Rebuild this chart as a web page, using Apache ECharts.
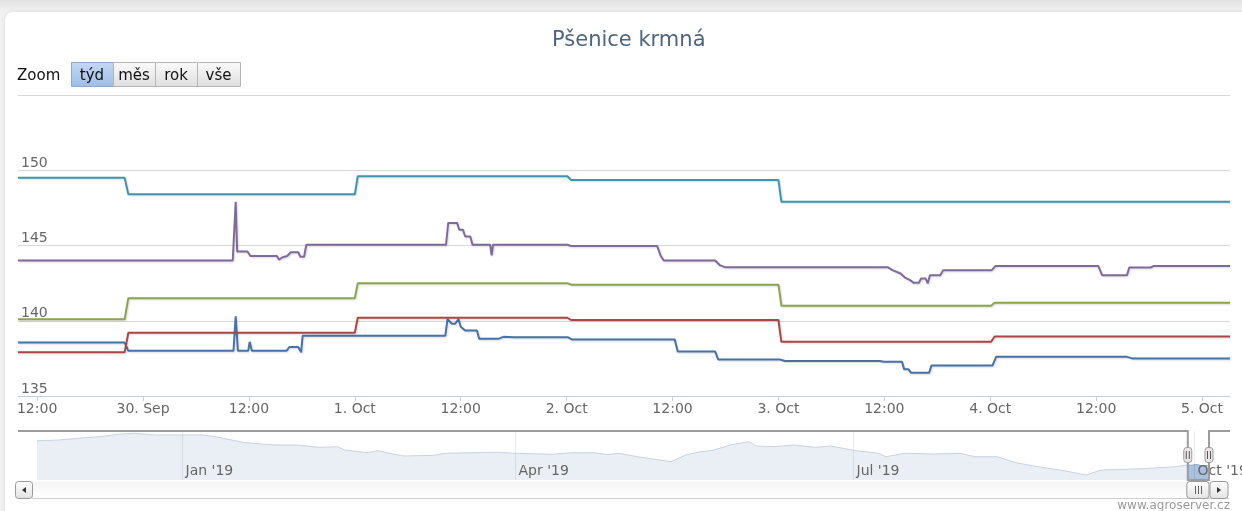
<!DOCTYPE html>
<html lang="cs">
<head>
    <meta charset="UTF-8">
    <title>Pšenice krmná</title>
    <script src="https://cdn.jsdelivr.net/npm/echarts@6/dist/echarts.min.js"></script>
    <style>
        html, body { margin: 0; padding: 0; width: 1242px; height: 511px; overflow: hidden;
            background: linear-gradient(#e2e2e2 0px, #f2f2f2 12px, #f2f2f2 100%); }
        #panel { position: absolute; left: 5px; top: 12px; width: 1260px; height: 530px;
            background: #fff; border-radius: 8px; box-shadow: 0 0 4px rgba(0,0,0,0.10); }
        #main { position: absolute; left: 0; top: 0; width: 1242px; height: 511px; }
    </style>
</head>
<body>
<div id="panel"></div>
<div id="main"></div>

<script>
    // nazvy mesicu pro popisky osy
    var mesice = ['Jan', 'Feb', 'Mar', 'Apr', 'May', 'Jun', 'Jul', 'Aug', 'Sep', 'Oct', 'Nov', 'Dec'];
    var zoomTlacitka = ['týd', 'měs', 'rok', 'vše'];
    var barvy = ['#4572A7', '#AA4643', '#89A54E', '#80699B', '#3D96AE'];

    var zacatek = '2019-09-29 09:50';
    var konec = '2019-10-05 03:10';

    // ceny za posledni tyden (cas, hodnota)
    var rada1 = [
        ['2019-09-29 09:50', 138.55], ['2019-09-29 21:55', 138.55], ['2019-09-29 22:20', 138.0],
        ['2019-09-30 10:15', 138.0], ['2019-09-30 10:30', 140.3], ['2019-09-30 10:45', 138.0],
        ['2019-09-30 11:55', 138.0], ['2019-09-30 12:05', 138.6], ['2019-09-30 12:20', 138.0],
        ['2019-09-30 16:15', 138.0], ['2019-09-30 16:35', 138.25], ['2019-09-30 17:35', 138.25],
        ['2019-09-30 17:55', 137.9], ['2019-09-30 18:05', 139.0], ['2019-10-01 10:15', 139.0],
        ['2019-10-01 10:30', 140.1], ['2019-10-01 11:00', 139.8], ['2019-10-01 11:20', 139.8],
        ['2019-10-01 11:45', 140.1], ['2019-10-01 12:00', 139.6], ['2019-10-01 12:30', 139.35],
        ['2019-10-01 13:50', 139.35], ['2019-10-01 14:05', 138.8], ['2019-10-01 16:15', 138.8],
        ['2019-10-01 16:50', 138.93], ['2019-10-01 18:00', 138.9], ['2019-10-02 00:10', 138.9],
        ['2019-10-02 00:35', 138.76], ['2019-10-02 12:15', 138.76], ['2019-10-02 12:35', 137.95],
        ['2019-10-02 16:50', 137.95], ['2019-10-02 17:10', 137.43], ['2019-10-03 00:10', 137.43],
        ['2019-10-03 00:45', 137.33], ['2019-10-03 11:30', 137.33], ['2019-10-03 11:55', 137.28],
        ['2019-10-03 14:00', 137.28], ['2019-10-03 14:15', 136.77], ['2019-10-03 14:45', 136.77],
        ['2019-10-03 15:00', 136.55], ['2019-10-03 17:05', 136.55], ['2019-10-03 17:20', 137.02],
        ['2019-10-04 00:15', 137.02], ['2019-10-04 00:40', 137.6], ['2019-10-04 15:30', 137.6],
        ['2019-10-04 16:05', 137.5], ['2019-10-05 03:10', 137.5]
    ];
    var rada2 = [
        ['2019-09-29 09:50', 137.9], ['2019-09-29 21:55', 137.9], ['2019-09-29 22:20', 139.2],
        ['2019-10-01 00:00', 139.2], ['2019-10-01 00:20', 140.2], ['2019-10-02 00:05', 140.2],
        ['2019-10-02 00:30', 140.05], ['2019-10-03 00:00', 140.05], ['2019-10-03 00:20', 138.6],
        ['2019-10-04 00:05', 138.6], ['2019-10-04 00:30', 138.95], ['2019-10-05 03:10', 138.95]
    ];
    var rada3 = [
        ['2019-09-29 09:50', 140.1], ['2019-09-29 21:55', 140.1], ['2019-09-29 22:20', 141.5],
        ['2019-10-01 00:00', 141.5], ['2019-10-01 00:20', 142.5], ['2019-10-02 00:05', 142.5],
        ['2019-10-02 00:30', 142.4], ['2019-10-03 00:00', 142.4], ['2019-10-03 00:20', 141.0],
        ['2019-10-04 00:05', 141.0], ['2019-10-04 00:30', 141.2], ['2019-10-05 03:10', 141.2]
    ];
    var rada4 = [
        ['2019-09-29 09:50', 144.0], ['2019-09-30 10:10', 144.0], ['2019-09-30 10:30', 147.9],
        ['2019-09-30 10:40', 144.6], ['2019-09-30 11:50', 144.6], ['2019-09-30 12:10', 144.3],
        ['2019-09-30 15:10', 144.3], ['2019-09-30 15:25', 144.05], ['2019-09-30 15:45', 144.2],
        ['2019-09-30 16:20', 144.3], ['2019-09-30 16:45', 144.55], ['2019-09-30 17:35', 144.55],
        ['2019-09-30 17:50', 144.25], ['2019-09-30 18:15', 144.25], ['2019-09-30 18:30', 145.05],
        ['2019-10-01 10:20', 145.05], ['2019-10-01 10:35', 146.5], ['2019-10-01 11:35', 146.5],
        ['2019-10-01 11:50', 146.05], ['2019-10-01 12:15', 146.05], ['2019-10-01 12:30', 145.6],
        ['2019-10-01 13:05', 145.6], ['2019-10-01 13:20', 145.05], ['2019-10-01 15:20', 145.05],
        ['2019-10-01 15:30', 144.35], ['2019-10-01 15:40', 145.05], ['2019-10-02 00:05', 145.05],
        ['2019-10-02 00:30', 144.97], ['2019-10-02 10:15', 144.97], ['2019-10-02 10:40', 144.3],
        ['2019-10-02 11:00', 144.0], ['2019-10-02 13:00', 144.0], ['2019-10-02 13:10', 143.9],
        ['2019-10-02 13:20', 144.0], ['2019-10-02 16:50', 144.0], ['2019-10-02 17:20', 143.7],
        ['2019-10-02 18:00', 143.55], ['2019-10-03 12:25', 143.55], ['2019-10-03 12:55', 143.36],
        ['2019-10-03 13:50', 143.14], ['2019-10-03 14:20', 142.87], ['2019-10-03 14:55', 142.7],
        ['2019-10-03 15:20', 142.52], ['2019-10-03 15:55', 142.52], ['2019-10-03 16:10', 142.81],
        ['2019-10-03 16:40', 142.81], ['2019-10-03 16:55', 142.48], ['2019-10-03 17:10', 143.03],
        ['2019-10-03 18:20', 143.03], ['2019-10-03 18:40', 143.36], ['2019-10-04 00:10', 143.36],
        ['2019-10-04 00:35', 143.63], ['2019-10-04 12:15', 143.63], ['2019-10-04 12:40', 143.03],
        ['2019-10-04 15:30', 143.03], ['2019-10-04 15:45', 143.54], ['2019-10-04 18:10', 143.54],
        ['2019-10-04 18:30', 143.63], ['2019-10-05 03:10', 143.63]
    ];
    var rada5 = [
        ['2019-09-29 09:50', 149.5], ['2019-09-29 21:55', 149.5], ['2019-09-29 22:20', 148.4],
        ['2019-10-01 00:00', 148.4], ['2019-10-01 00:20', 149.6], ['2019-10-02 00:05', 149.6],
        ['2019-10-02 00:30', 149.35], ['2019-10-03 00:00', 149.35], ['2019-10-03 00:20', 147.9],
        ['2019-10-05 03:10', 147.9]
    ];

    // historie prvni rady pro navigator
    var navCasy = ['2018-11-23', '2018-11-29', '2018-12-04', '2018-12-10', '2018-12-15', '2018-12-19',
        '2018-12-25', '2019-01-01', '2019-01-07', '2019-01-11', '2019-01-18', '2019-01-26',
        '2019-02-01', '2019-02-07', '2019-02-12', '2019-02-14', '2019-02-20', '2019-02-23',
        '2019-02-26', '2019-03-02', '2019-03-10', '2019-03-13', '2019-03-20', '2019-03-27',
        '2019-04-01', '2019-04-11', '2019-04-16', '2019-04-22', '2019-04-26', '2019-04-29',
        '2019-05-04', '2019-05-10', '2019-05-13', '2019-05-17', '2019-05-21', '2019-05-24',
        '2019-05-29', '2019-06-03', '2019-06-05', '2019-06-10', '2019-06-15', '2019-06-21',
        '2019-06-25', '2019-07-02', '2019-07-08', '2019-07-10', '2019-07-15', '2019-07-23',
        '2019-07-30', '2019-08-03', '2019-08-09', '2019-08-14', '2019-08-20', '2019-08-27',
        '2019-09-02', '2019-09-06', '2019-09-13', '2019-09-19', '2019-09-26', '2019-09-29 09:50'];
    var navHodnoty = [168.1, 169.0, 171.1, 173.0, 176.0, 177.2,
        175.1, 175.1, 175.1, 172.3, 165.7, 162.9,
        162.9, 160.0, 160.8, 156.7, 153.4, 155.9,
        152.7, 149.4, 150.2, 152.7, 153.4, 153.9,
        152.7, 151.5, 153.4, 153.4, 151.0, 152.7,
        148.5, 144.5, 142.4, 150.6, 154.7, 155.9,
        162.9, 166.9, 161.6, 160.8, 162.9, 160.0,
        161.6, 155.9, 152.7, 148.5, 152.7, 151.8,
        152.7, 148.5, 148.5, 141.2, 136.3, 131.4,
        126.1, 132.2, 133.1, 134.3, 136.3, 138.55];
    // popisky ctvrtleti v navigatoru
    var navPopisky = ['2019-01-01', '2019-04-01', '2019-07-01', '2019-10-01'];

    function cas(s) {
        var p = s.split(/[- :]/);
        return new Date(+p[0], p[1] - 1, +p[2], +(p[3] || 0), +(p[4] || 0)).getTime();
    }
    function pad(n) { return n < 10 ? '0' + n : '' + n; }
    function body(rada) {
        return rada.map(function (b) { return [cas(b[0]), b[1]]; });
    }

    var rady = [rada1, rada2, rada3, rada4, rada5];
    var font = 'DejaVu Sans';

    var serie = rady.map(function (rada, i) {
        return {
            name: 'rada' + (i + 1),
            type: 'line',
            xAxisIndex: 0,
            yAxisIndex: 0,
            data: body(rada),
            symbol: 'none',
            color: barvy[i],
            lineStyle: {width: 2, color: barvy[i], shadowColor: 'rgba(0,0,0,0.15)', shadowBlur: 2,
                shadowOffsetX: 1, shadowOffsetY: 1}
        };
    });
    // navigator - cela historie
    serie.push({
        type: 'line', xAxisIndex: 1, yAxisIndex: 1, silent: true, symbol: 'none',
        data: navCasy.map(function (c, i) { return [cas(c), navHodnoty[i]]; }),
        lineStyle: {width: 1, color: '#c6d3e3'},
        areaStyle: {color: '#eaeff5', opacity: 1}
    });
    // navigator - vybrany usek
    serie.push({
        type: 'line', xAxisIndex: 1, yAxisIndex: 1, silent: true, symbol: 'none',
        data: body(rada1),
        lineStyle: {width: 1, color: '#8eaad0'},
        areaStyle: {color: '#a9c1de', opacity: 1}
    });

    var option = {
        animation: false,
        title: {
            text: 'Pšenice krmná',
            left: 547,
            top: 25,
            textStyle: {fontFamily: font, fontSize: 21, fontWeight: 'normal', color: '#4d6580'}
        },
        grid: [
            {left: 18, right: 12, top: 95, bottom: 115, outerBoundsMode: 'none'},
            {left: 37, right: 33, top: 431, height: 49, outerBoundsMode: 'none'}
        ],
        xAxis: [
            {
                type: 'time', gridIndex: 0,
                min: cas(zacatek), max: cas(konec),
                minInterval: 13 * 3600 * 1000, maxInterval: 13 * 3600 * 1000,
                axisLine: {lineStyle: {color: '#c0d0e0'}},
                axisTick: {show: true, length: 5, lineStyle: {color: '#c0d0e0'}},
                splitLine: {show: false},
                axisLabel: {
                    color: '#666', fontSize: 14, fontFamily: font, margin: 6,
                    formatter: function (v) {
                        var d = new Date(v);
                        if (d.getHours() === 0 && d.getMinutes() === 0) {
                            return d.getDate() + '. ' + mesice[d.getMonth()];
                        }
                        return pad(d.getHours()) + ':' + pad(d.getMinutes());
                    }
                }
            },
            {
                type: 'time', gridIndex: 1,
                min: cas(navCasy[0]), max: cas(konec),
                axisLine: {show: false},
                axisTick: {show: false},
                splitLine: {show: false},
                axisLabel: {show: false}
            }
        ],
        yAxis: [
            {
                type: 'value', gridIndex: 0, min: 135, max: 155, interval: 5,
                axisLine: {show: false}, axisTick: {show: false},
                splitLine: {lineStyle: {color: '#d8d8d8'}},
                axisLabel: {
                    inside: true, margin: 3, verticalAlign: 'bottom',
                    color: '#666', fontSize: 14, fontFamily: font,
                    formatter: function (v) { return v === 155 ? '' : v; }
                }
            },
            {type: 'value', gridIndex: 1, min: 120, max: 180, show: false}
        ],
        series: serie
    };

    var chart = echarts.init(document.getElementById('main'));
    chart.setOption(option);

    // ovladaci prvky (zoom tlacitka, navigator, posuvnik)
    var grafika = [];
    grafika.push({type: 'text', x: 17, y: 76, style: {text: 'Zoom', font: '15px ' + font, fill: '#111', verticalAlign: 'middle'}});
    var sirky = [42, 42, 42, 43];
    var bx = 71;
    zoomTlacitka.forEach(function (t, i) {
        var vybrane = i === 0;
        grafika.push({
            type: 'rect', shape: {x: bx + 0.5, y: 62.5, width: sirky[i], height: 24},
            style: {
                fill: new echarts.graphic.LinearGradient(0, 0, 0, 1, vybrane ?
                    [{offset: 0, color: '#c3d8f4'}, {offset: 1, color: '#9ebde6'}] :
                    [{offset: 0, color: '#fbfbfb'}, {offset: 1, color: '#dedede'}]),
                stroke: vybrane ? '#8fa9cc' : '#b5b5b5', lineWidth: 1
            }
        });
        grafika.push({
            type: 'text', x: bx + sirky[i] / 2, y: 76,
            style: {text: t, font: '15px ' + font, fill: '#111', align: 'center', verticalAlign: 'middle'}
        });
        bx += sirky[i];
    });

    var navTop = 431, navBottom = 480;
    // mrizka a popisky navigatoru
    navPopisky.forEach(function (c) {
        var x = Math.round(chart.convertToPixel({xAxisIndex: 1}, cas(c))) + 0.5;
        var d = new Date(cas(c));
        grafika.push({type: 'line', z: 20, shape: {x1: x, y1: navTop, x2: x, y2: navBottom}, style: {stroke: 'rgba(0,0,0,0.08)', lineWidth: 1}});
        grafika.push({
            type: 'text', z: 20, x: x + 3, y: 471,
            style: {text: mesice[d.getMonth()] + " '" + String(d.getFullYear()).slice(2),
                font: '14px ' + font, fill: '#666', verticalAlign: 'middle'}
        });
    });

    var xs = chart.convertToPixel({xAxisIndex: 1}, cas(zacatek));
    var xe = chart.convertToPixel({xAxisIndex: 1}, cas(konec));

    grafika.push({
        type: 'polyline', z: 21,
        shape: {points: [[18, navTop], [xs, navTop], [xs, navBottom], [xe, navBottom], [xe, navTop], [1230, navTop]]},
        style: {stroke: '#9d9d9d', lineWidth: 2, fill: null}
    });
    [xs, xe].forEach(function (x) {
        grafika.push({
            type: 'rect', z: 22, shape: {x: x - 4, y: 447.5, width: 8, height: 15, r: 3},
            style: {fill: '#ebe7e8', stroke: '#999', lineWidth: 1}
        });
        grafika.push({type: 'line', z: 22, shape: {x1: x - 1.5, y1: 451, x2: x - 1.5, y2: 459}, style: {stroke: '#555', lineWidth: 1}});
        grafika.push({type: 'line', z: 22, shape: {x1: x + 1.5, y1: 451, x2: x + 1.5, y2: 459}, style: {stroke: '#555', lineWidth: 1}});
    });

    // posuvnik
    var sbTop = 481.5, sbH = 17;
    var grad = function () {
        return new echarts.graphic.LinearGradient(0, 0, 0, 1,
            [{offset: 0, color: '#ffffff'}, {offset: 1, color: '#e2e2e2'}]);
    };
    grafika.push({
        type: 'rect', z: 22, shape: {x: 32, y: sbTop, width: xe + 2 - 32, height: sbH},
        style: {fill: new echarts.graphic.LinearGradient(0, 0, 0, 1,
            [{offset: 0, color: '#f4f4f4'}, {offset: 1, color: '#ffffff'}]), stroke: null}
    });
    grafika.push({type: 'line', z: 22, shape: {x1: 32, y1: sbTop + sbH, x2: 1229, y2: sbTop + sbH}, style: {stroke: '#d0d0d0', lineWidth: 1}});
    grafika.push({
        type: 'rect', z: 22, shape: {x: 15.5, y: sbTop, width: 17, height: sbH, r: 3},
        style: {fill: grad(), stroke: '#9a9a9a', lineWidth: 1}
    });
    grafika.push({
        type: 'polygon', z: 23, shape: {points: [[26, 487], [26, 493], [22, 490]]},
        style: {fill: '#333'}
    });
    grafika.push({
        type: 'rect', z: 22, shape: {x: xs - 1, y: sbTop, width: xe - xs + 1, height: sbH, r: 3},
        style: {fill: grad(), stroke: '#9a9a9a', lineWidth: 1}
    });
    var xm = Math.round((xs + xe) / 2) + 0.5;
    [-3, 0, 3].forEach(function (d) {
        grafika.push({type: 'line', z: 23, shape: {x1: xm + d, y1: 486, x2: xm + d, y2: 494}, style: {stroke: '#666', lineWidth: 1}});
    });
    grafika.push({
        type: 'rect', z: 22, shape: {x: xe + 1, y: sbTop, width: 18, height: sbH, r: 3},
        style: {fill: grad(), stroke: '#9a9a9a', lineWidth: 1}
    });
    grafika.push({
        type: 'polygon', z: 23, shape: {points: [[xe + 8, 487], [xe + 8, 493], [xe + 12, 490]]},
        style: {fill: '#333'}
    });
    grafika.push({
        type: 'text', right: 12, top: 500,
        style: {text: 'www.agroserver.cz', font: '12px ' + font, fill: '#999'}
    });

    chart.setOption({graphic: grafika});
</script>
</body>
</html>
